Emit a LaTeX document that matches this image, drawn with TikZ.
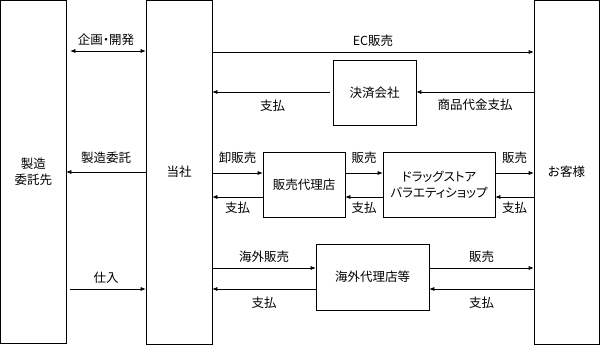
\documentclass[tikz,border=0pt]{standalone}
\usepackage{fontspec}
\setmainfont{Noto Sans CJK JP}[RawFeature=+palt]
\usetikzlibrary{arrows.meta, positioning, calc}

\begin{document}
\begin{tikzpicture}[x=1pt, y=-1pt, font=\fontsize{12.5}{15.5}\selectfont,
    every node/.style={inner sep=1pt},
    box/.style={draw, line width=0.6pt, align=center},
    arr/.style={-{Latex[length=5pt, width=4pt]}, line width=0.6pt},
    both/.style={{Latex[length=5pt, width=4pt]}-{Latex[length=5pt, width=4pt]}, line width=0.6pt},
    up/.style={midway, above=#1},
    up/.default=4pt,
    down/.style={midway, below=#1},
    down/.default=4pt]
    \useasboundingbox (0,0) rectangle (600,345);
    % 縦の箱
    \node[box, minimum width=65.5pt, minimum height=343pt] (maker) at (33.25,172) {製造\\委託先};
    \node[box, minimum width=66pt, minimum height=343.5pt] (self) at (179,172.25) {当社};
    \node[box, minimum width=65pt, minimum height=343.5pt] (customer) at (566.5,172.25) {お客様};
    % 間の箱
    \node[box, minimum width=83pt, minimum height=65pt] (payco) at (374.5,92.5) {決済会社};
    \node[box, minimum width=82pt, minimum height=65pt] (agent) at (304,184.5) {販売代理店};
    \node[box, minimum width=112pt, minimum height=65pt] (drug) at (439,184.5) {ドラッグストア\\バラエティショップ};
    \node[box, minimum width=113pt, minimum height=66pt] (overseas) at (372.5,277) {海外代理店等};

    % 製造委託先 -- 当社
    \draw[both, shorten <=4pt] (maker.east |- 0,51) -- (self.west |- 0,51) node[up] {企画・開発};
    \draw[arr] (self.west |- 0,172) -- (maker.east |- 0,172) node[up=7pt] {製造委託};
    \draw[arr, shorten <=4pt] (maker.east |- 0,289) -- (self.west |- 0,289) node[up] {仕入};

    % EC
    \draw[arr] (self.east |- 0,52) -- (customer.west |- 0,52) node[up] {EC販売};
    \draw[arr] (customer.west |- 0,92) -- (payco.east |- 0,92) node[down=6pt] {商品代金支払};
    \draw[arr, shorten <=3pt] (payco.west |- 0,92) -- (self.east |- 0,92) node[down=7pt] {支払};

    % 卸
    \draw[arr] (self.east |- 0,173) -- (agent.west |- 0,173) node[up=8pt] {卸販売};
    \draw[arr] (agent.east |- 0,173) -- (drug.west |- 0,173) node[up=8pt] {販売};
    \draw[arr] (drug.east |- 0,173) -- (customer.west |- 0,173) node[up=8pt] {販売};
    \draw[arr] (agent.west |- 0,197) -- (self.east |- 0,197) node[down] {支払};
    \draw[arr] (drug.west |- 0,197) -- (agent.east |- 0,197) node[down] {支払};
    \draw[arr] (customer.west |- 0,197) -- (drug.east |- 0,197) node[down] {支払};

    % 海外
    \draw[arr] (self.east |- 0,268) -- (overseas.west |- 0,268) node[up] {海外販売};
    \draw[arr] (overseas.east |- 0,268) -- (customer.west |- 0,268) node[up] {販売};
    \draw[arr] (overseas.west |- 0,289) -- (self.east |- 0,289) node[down=7pt] {支払};
    \draw[arr] (customer.west |- 0,289) -- (overseas.east |- 0,289) node[down=7pt] {支払};
\end{tikzpicture}
\end{document}
